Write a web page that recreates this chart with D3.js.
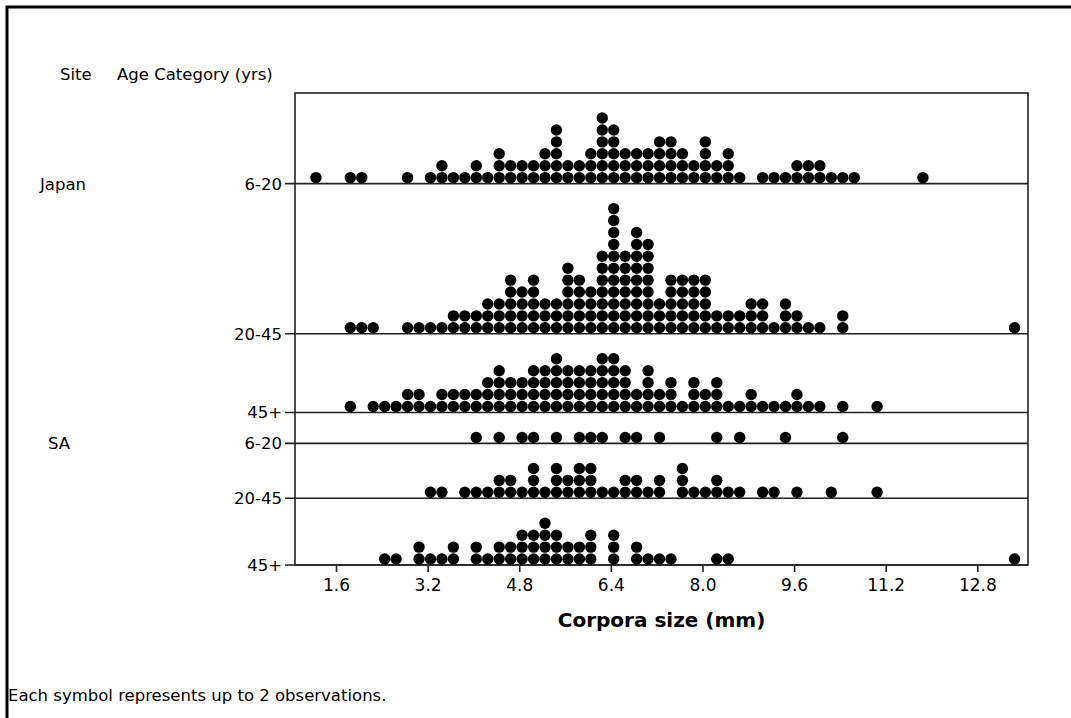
<!DOCTYPE html>
<html>
<head>
<meta charset="utf-8">
<script src="https://cdn.jsdelivr.net/npm/d3@7"></script>
<style>
  body { margin: 0; background: #fff; }
  svg text { font-family: "DejaVu Sans", sans-serif; fill: #000; }
</style>
</head>
<body>
<div id="chart"></div>
<script>
// corpora size (mm) bin value, number of symbols stacked
var sites = ["Japan", "SA"];
var ageCategories = ["6-20", "20-45", "45+"];
var xTicks = [1.6, 3.2, 4.8, 6.4, 8.0, 9.6, 11.2, 12.8];

var japan_6_20 = [[1.25,1],[1.85,1],[2.05,1],[2.85,1],[3.25,1],[3.45,2],[3.65,1],[3.85,1],[4.05,2],[4.25,1],
  [4.45,3],[4.65,2],[4.85,2],[5.05,2],[5.25,3],[5.45,5],[5.65,2],[5.85,2],[6.05,3],[6.25,6],[6.45,5],[6.65,3],
  [6.85,3],[7.05,3],[7.25,4],[7.45,4],[7.65,3],[7.85,2],[8.05,4],[8.25,2],[8.45,3],[8.65,1],[9.05,1],[9.25,1],
  [9.45,1],[9.65,2],[9.85,2],[10.05,2],[10.25,1],[10.45,1],[10.65,1],[11.85,1]];

var japan_20_45 = [[1.85,1],[2.05,1],[2.25,1],[2.85,1],[3.05,1],[3.25,1],[3.45,1],[3.65,2],[3.85,2],[4.05,2],
  [4.25,3],[4.45,3],[4.65,5],[4.85,4],[5.05,5],[5.25,3],[5.45,3],[5.65,6],[5.85,5],[6.05,4],[6.25,7],[6.45,11],
  [6.65,7],[6.85,9],[7.05,8],[7.25,3],[7.45,5],[7.65,5],[7.85,5],[8.05,5],[8.25,2],[8.45,2],[8.65,2],[8.85,3],
  [9.05,3],[9.25,1],[9.45,3],[9.65,2],[9.85,1],[10.05,1],[10.45,2],[13.45,1]];

var japan_45 = [[1.85,1],[2.25,1],[2.45,1],[2.65,1],[2.85,2],[3.05,2],[3.25,1],[3.45,2],[3.65,2],[3.85,2],
  [4.05,2],[4.25,3],[4.45,4],[4.65,3],[4.85,3],[5.05,4],[5.25,4],[5.45,5],[5.65,4],[5.85,4],[6.05,4],[6.25,5],
  [6.45,5],[6.65,4],[6.85,2],[7.05,4],[7.25,2],[7.45,3],[7.65,1],[7.85,3],[8.05,2],[8.25,3],[8.45,1],[8.65,1],
  [8.85,2],[9.05,1],[9.25,1],[9.45,1],[9.65,2],[9.85,1],[10.05,1],[10.45,1],[11.05,1]];

var sa_6_20 = [[4.05,1],[4.45,1],[4.85,1],[5.05,1],[5.45,1],[5.85,1],[6.05,1],[6.25,1],[6.65,1],[6.85,1],
  [7.25,1],[8.25,1],[8.65,1],[9.45,1],[10.45,1]];

var sa_20_45 = [[3.25,1],[3.45,1],[3.85,1],[4.05,1],[4.25,1],[4.45,2],[4.65,2],[4.85,1],[5.05,3],[5.25,1],
  [5.45,3],[5.65,2],[5.85,3],[6.05,3],[6.25,1],[6.45,1],[6.65,2],[6.85,2],[7.05,1],[7.25,2],[7.65,3],[7.85,1],
  [8.05,1],[8.25,2],[8.45,1],[8.65,1],[9.05,1],[9.25,1],[9.65,1],[10.25,1],[11.05,1]];

var sa_45 = [[2.45,1],[2.65,1],[3.05,2],[3.25,1],[3.45,1],[3.65,2],[4.05,2],[4.25,1],[4.45,2],[4.65,2],
  [4.85,3],[5.05,3],[5.25,4],[5.45,3],[5.65,2],[5.85,2],[6.05,3],[6.45,3],[6.85,2],[7.05,1],[7.25,1],[7.45,1],
  [8.25,1],[8.45,1],[13.45,1]];

var panels = [
  {site: "Japan", age: ageCategories[0], bins: japan_6_20},
  {site: "Japan", age: ageCategories[1], bins: japan_20_45},
  {site: "Japan", age: ageCategories[2], bins: japan_45},
  {site: "SA", age: ageCategories[0], bins: sa_6_20},
  {site: "SA", age: ageCategories[1], bins: sa_20_45},
  {site: "SA", age: ageCategories[2], bins: sa_45}
];

var width = 1071, height = 718;
var plot = {left: 295, right: 1028, top: 93, bottom: 565};
var pad = 1.6;   // empty rows above the tallest stack

var svg = d3.select("#chart").append("svg")
  .attr("width", width)
  .attr("height", height);

// outer frame
svg.append("rect")
  .attr("x", 7).attr("y", 7)
  .attr("width", width + 10).attr("height", height + 10)
  .attr("fill", "none").attr("stroke", "#000").attr("stroke-width", 3);

var x = d3.scaleLinear()
  .domain([0.884, 13.685])
  .range([plot.left, plot.right]);

// panel heights follow the tallest stack in each panel
panels.forEach(function(p) { p.rows = d3.max(p.bins, d => d[1]) + pad; });
var totalRows = d3.sum(panels, p => p.rows);
var step = (plot.bottom - plot.top) / totalRows;
var y = d3.scaleLinear().domain([0, totalRows]).range([plot.top, plot.bottom]);
var acc = 0;
panels.forEach(function(p) { acc += p.rows; p.base = y(acc); });

var r = 5.7;

// baselines + category ticks
var g = svg.append("g");
g.selectAll(".base")
  .data(panels).enter()
  .append("line")
  .attr("x1", plot.left - 10).attr("x2", plot.right)
  .attr("y1", d => d.base).attr("y2", d => d.base)
  .attr("stroke", "#222").attr("stroke-width", 1.6);

g.selectAll(".cat")
  .data(panels).enter()
  .append("text")
  .attr("x", plot.left - 13)
  .attr("y", d => d.base + 6)
  .attr("text-anchor", "end")
  .style("font-size", "16.5px")
  .text(d => d.age);

// site labels at the first category of each site
var siteX = {"Japan": 40, "SA": 48};
g.selectAll(".site")
  .data(panels.filter(p => p.age == ageCategories[0])).enter()
  .append("text")
  .attr("x", d => siteX[d.site])
  .attr("y", d => d.base + 6)
  .style("font-size", "16.5px")
  .text(d => d.site);

// plot box
svg.append("rect")
  .attr("x", plot.left).attr("y", plot.top)
  .attr("width", plot.right - plot.left).attr("height", plot.bottom - plot.top)
  .attr("fill", "none").attr("stroke", "#222").attr("stroke-width", 1.6);

// dots
panels.forEach(function(p) {
  var pts = [];
  p.bins.forEach(function(b) {
    for (var k = 0; k < b[1]; k++) pts.push({v: b[0], k: k});
  });
  svg.append("g").selectAll("circle")
    .data(pts).enter()
    .append("circle")
    .attr("cx", d => x(d.v))
    .attr("cy", d => p.base - (d.k + 0.5) * step)
    .attr("r", r)
    .attr("fill", "#000");
});

// x axis
var xAxis = d3.axisBottom(x)
  .tickValues(xTicks)
  .tickFormat(d3.format(".1f"))
  .tickSize(7)
  .tickPadding(7);

var ax = svg.append("g")
  .attr("transform", `translate(0, ${plot.bottom})`)
  .call(xAxis);
ax.select(".domain").remove();
ax.selectAll("line").attr("stroke", "#222").attr("stroke-width", 1.6);
ax.selectAll("text")
  .style("font-size", "17px")
  .style("font-family", "'DejaVu Sans', sans-serif")
  .attr("fill", "#000");

svg.append("text")
  .attr("x", (plot.left + plot.right) / 2)
  .attr("y", 627)
  .attr("text-anchor", "middle")
  .style("font-size", "20px")
  .style("font-weight", "bold")
  .text("Corpora size (mm)");

// header labels
svg.append("text").attr("x", 60).attr("y", 80).style("font-size", "16.5px").text("Site");
svg.append("text").attr("x", 117).attr("y", 80).style("font-size", "16.5px").text("Age Category (yrs)");

svg.append("text")
  .attr("x", 8).attr("y", 701)
  .style("font-size", "16.5px")
  .text("Each symbol represents up to 2 observations.");
</script>
</body>
</html>
